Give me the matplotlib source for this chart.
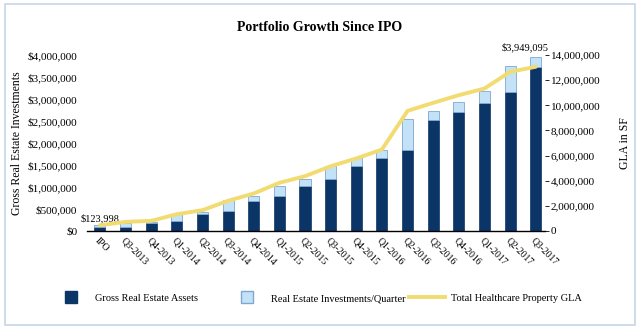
import matplotlib
matplotlib.use('Agg')
from matplotlib import pyplot as plt
from matplotlib.lines import Line2D
from matplotlib.patches import Rectangle
from matplotlib.ticker import FuncFormatter

quarters = ['IPO', 'Q3-2013', 'Q4-2013', 'Q1-2014', 'Q2-2014', 'Q3-2014', 'Q4-2014',
            'Q1-2015', 'Q2-2015', 'Q3-2015', 'Q4-2015', 'Q1-2016', 'Q2-2016', 'Q3-2016',
            'Q4-2016', 'Q1-2017', 'Q2-2017', 'Q3-2017']
# dark part of each bar (gross assets)
gross = [80000, 90000, 190000, 230000, 380000, 455000, 680000, 790000, 1020000,
         1180000, 1470000, 1650000, 1840000, 2520000, 2710000, 2920000, 3170000, 3730000]
# light part stacked on top (investments in the quarter)
invest = [43998, 90000, 15000, 160000, 50000, 245000, 120000, 240000, 160000,
          290000, 180000, 200000, 700000, 200000, 220000, 260000, 590000, 219095]
# GLA in SF, right axis
gla = [450000, 720000, 800000, 1330000, 1650000, 2400000, 2980000, 3830000, 4360000,
       5150000, 5770000, 6480000, 9560000, 10200000, 10810000, 11340000, 12670000, 13070000]

dark = '#0a3566'
light = '#c3e2f8'
yellow = '#f2dc72'

plt.rcParams['font.family'] = ['Liberation Serif', 'DejaVu Serif']

fig = plt.figure(figsize=(6.4, 3.28), dpi=100)
ax = fig.add_axes([0.136, 0.296, 0.716, 0.536])
ax2 = ax.twinx()

x = list(range(len(quarters)))
ax.bar(x, gross, width=0.43, color=dark, edgecolor=dark, linewidth=0.5, zorder=2)
ax.bar(x, invest, width=0.43, bottom=gross, color=light, edgecolor='#7fa8cf',
       linewidth=0.6, zorder=2)
ax2.plot(x, gla, color=yellow, linewidth=2.8, solid_capstyle='round', zorder=3)

ax.set_ylim(0, 4000000)
ax2.set_ylim(0, 14000000)
ax.set_xlim(-0.5, 17.37)
ax.set_yticks(range(0, 4000001, 500000))
ax2.set_yticks(range(0, 14000001, 2000000))
ax.yaxis.set_major_formatter(FuncFormatter(lambda v, p: '${:,.0f}'.format(v)))
ax2.yaxis.set_major_formatter(FuncFormatter(lambda v, p: '{:,.0f}'.format(v)))

ax.set_xticks(x)
ax.set_xticklabels(quarters, rotation=-45, ha='left', va='top', rotation_mode='anchor')
for a in (ax, ax2):
	for s in ('top', 'left', 'right'):
		a.spines[s].set_visible(False)
	a.tick_params(labelsize=8, length=0)
ax.spines['bottom'].set_linewidth(1.0)
ax2.spines['bottom'].set_visible(False)
ax.tick_params(axis='y', pad=7)
ax.tick_params(axis='x', pad=4, labelsize=7)
ax2.tick_params(axis='y', length=3, width=0.6, pad=1)

ax.set_ylabel('Gross Real Estate Investments', fontsize=8.5, labelpad=3)
ax2.set_ylabel('GLA in SF', fontsize=8.5, labelpad=13)

ax.text(0, gross[0] + invest[0] + 60000, '${:,}'.format(gross[0] + invest[0]),
        ha='center', va='bottom', fontsize=7.5)
ax.text(16.6, gross[-1] + invest[-1] + 120000, '${:,}'.format(gross[-1] + invest[-1]),
        ha='center', va='bottom', fontsize=7.5)

fig.suptitle('Portfolio Growth Since IPO', fontsize=10, weight='bold', y=0.935)

h1 = Line2D([], [], marker='s', linestyle='none', markersize=8, color=dark)
h2 = Line2D([], [], marker='s', linestyle='none', markersize=8,
            markerfacecolor=light, markeredgecolor='#7fa8cf')
h3 = Line2D([], [], color=yellow, linewidth=2.8)
for h, lab, xpos in ((h1, 'Gross Real Estate Assets', 0.068),
                     (h2, 'Real Estate Investments/Quarter', 0.344),
                     (h3, 'Total Healthcare Property GLA', 0.625)):
	fig.legend([h], [lab], loc='center left', bbox_to_anchor=(xpos, 0.09),
	           frameon=False, fontsize=7.5, handlelength=3.4, handletextpad=0.6)

fig.patches.append(Rectangle((0.008, 0.01), 0.984, 0.978, transform=fig.transFigure,
                             fill=False, edgecolor='#c6d6e6', linewidth=1.2))

plt.savefig('out.png', dpi=100)
